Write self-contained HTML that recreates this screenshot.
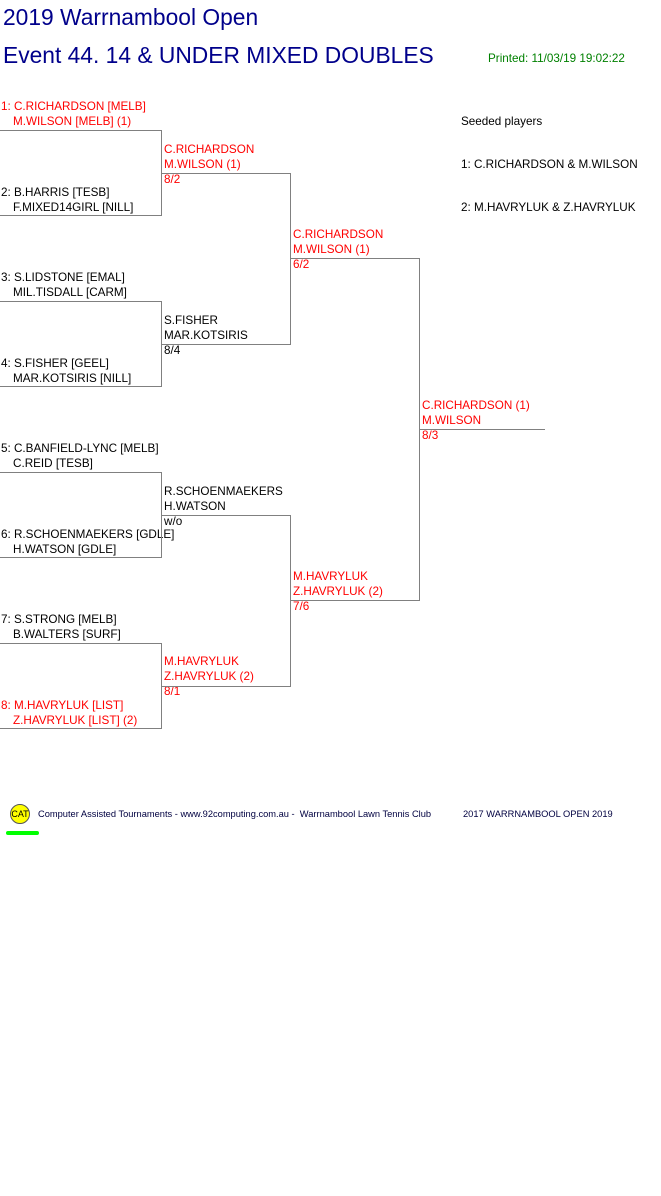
<!DOCTYPE html>
<html><head><meta charset="utf-8"><style>
body{margin:0;width:661px;height:1196px;background:#fff;position:relative;font-family:"Liberation Sans",Arial,sans-serif;overflow:hidden}
.t{position:absolute;font-size:11.7px;line-height:15px;white-space:nowrap;color:#000}
.r{color:#f00}
.h{position:absolute;height:1px;background:#808080}
.v{position:absolute;width:1px;background:#808080}
.i{padding-left:12px}
</style></head><body>
<div class="t" style="left:3px;top:3px;font-size:22.8px;line-height:28px;color:#00008b">2019 Warrnambool Open</div>
<div class="t" style="left:3px;top:41px;font-size:22.8px;line-height:28px;color:#00008b">Event 44. 14 &amp; UNDER MIXED DOUBLES</div>
<div class="t" style="left:488px;top:51px;color:#008000">Printed: 11/03/19 19:02:22</div>

<div class="t" style="left:461px;top:114px">Seeded players</div>
<div class="t" style="left:461px;top:157px">1: C.RICHARDSON &amp; M.WILSON</div>
<div class="t" style="left:461px;top:200px">2: M.HAVRYLUK &amp; Z.HAVRYLUK</div>

<div class="t r" style="left:1px;top:99px">1: C.RICHARDSON [MELB]<br><span class="i">M.WILSON [MELB] (1)</span></div>
<div class="t" style="left:1px;top:185px">2: B.HARRIS [TESB]<br><span class="i">F.MIXED14GIRL [NILL]</span></div>
<div class="t" style="left:1px;top:270px">3: S.LIDSTONE [EMAL]<br><span class="i">MIL.TISDALL [CARM]</span></div>
<div class="t" style="left:1px;top:356px">4: S.FISHER [GEEL]<br><span class="i">MAR.KOTSIRIS [NILL]</span></div>
<div class="t" style="left:1px;top:441px">5: C.BANFIELD-LYNC [MELB]<br><span class="i">C.REID [TESB]</span></div>
<div class="t" style="left:1px;top:527px">6: R.SCHOENMAEKERS [GDLE]<br><span class="i">H.WATSON [GDLE]</span></div>
<div class="t" style="left:1px;top:612px">7: S.STRONG [MELB]<br><span class="i">B.WALTERS [SURF]</span></div>
<div class="t r" style="left:1px;top:698px">8: M.HAVRYLUK [LIST]<br><span class="i">Z.HAVRYLUK [LIST] (2)</span></div>

<div class="h" style="left:0;top:130px;width:162px"></div><div class="h" style="left:0;top:215px;width:162px"></div><div class="v" style="left:161px;top:130px;height:86px"></div>
<div class="h" style="left:0;top:301px;width:162px"></div><div class="h" style="left:0;top:386px;width:162px"></div><div class="v" style="left:161px;top:301px;height:86px"></div>
<div class="h" style="left:0;top:472px;width:162px"></div><div class="h" style="left:0;top:557px;width:162px"></div><div class="v" style="left:161px;top:472px;height:86px"></div>
<div class="h" style="left:0;top:643px;width:162px"></div><div class="h" style="left:0;top:728px;width:162px"></div><div class="v" style="left:161px;top:643px;height:86px"></div>

<div class="t r" style="left:164px;top:142px">C.RICHARDSON<br>M.WILSON (1)<br>8/2</div>
<div class="t" style="left:164px;top:313px">S.FISHER<br>MAR.KOTSIRIS<br>8/4</div>
<div class="t" style="left:164px;top:484px">R.SCHOENMAEKERS<br>H.WATSON<br>w/o</div>
<div class="t r" style="left:164px;top:654px">M.HAVRYLUK<br>Z.HAVRYLUK (2)<br>8/1</div>
<div class="h" style="left:161px;top:173px;width:130px"></div><div class="h" style="left:161px;top:344px;width:130px"></div><div class="v" style="left:290px;top:173px;height:172px"></div>
<div class="h" style="left:161px;top:515px;width:130px"></div><div class="h" style="left:161px;top:686px;width:130px"></div><div class="v" style="left:290px;top:515px;height:172px"></div>

<div class="t r" style="left:293px;top:227px">C.RICHARDSON<br>M.WILSON (1)<br>6/2</div>
<div class="t r" style="left:293px;top:569px">M.HAVRYLUK<br>Z.HAVRYLUK (2)<br>7/6</div>
<div class="h" style="left:290px;top:258px;width:130px"></div><div class="h" style="left:290px;top:600px;width:130px"></div><div class="v" style="left:419px;top:258px;height:343px"></div>

<div class="t r" style="left:422px;top:398px">C.RICHARDSON (1)<br>M.WILSON<br>8/3</div>
<div class="h" style="left:419px;top:429px;width:126px"></div>

<div style="position:absolute;left:10px;top:804px;width:20px;height:20px;border-radius:50%;background:#ff0;border:1px solid #555;box-sizing:border-box;font-size:9px;line-height:18px;text-align:center;color:#000">CAT</div>
<div style="position:absolute;left:6px;top:831px;width:33px;height:4px;border-radius:2px;background:#00ff00"></div>
<div class="t" style="left:38px;top:808px;font-size:9.3px;line-height:12px;color:#000040">Computer Assisted Tournaments - www.92computing.com.au -&nbsp; Warrnambool Lawn Tennis Club</div>
<div class="t" style="left:463px;top:808px;font-size:9.3px;line-height:12px;color:#000040">2017 WARRNAMBOOL OPEN 2019</div>
</body></html>
